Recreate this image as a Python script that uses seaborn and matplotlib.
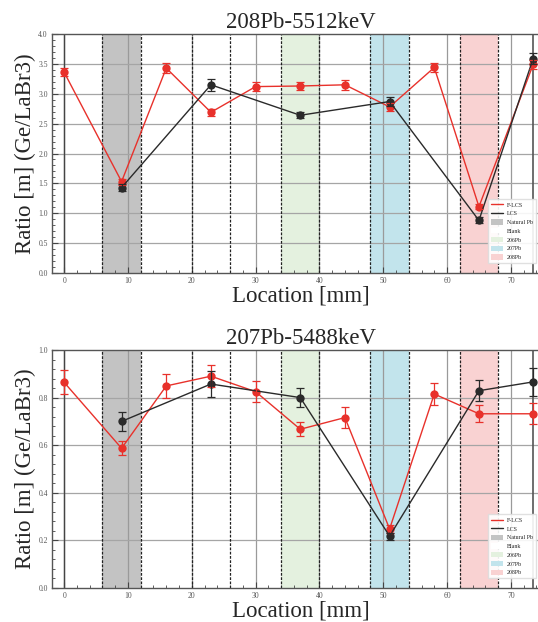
import matplotlib
matplotlib.use("Agg")
import matplotlib.pyplot as plt
from matplotlib.lines import Line2D
from matplotlib.patches import Patch
from matplotlib.ticker import MultipleLocator, AutoMinorLocator, FormatStrFormatter
import numpy as np
import pandas as pd
import seaborn as sns

# Scan positions [mm]
x_flcs = [0, 9, 16, 23, 30, 37, 44, 51, 58, 65, 73.5]
x_lcs = [9, 23, 37, 51, 65, 73.5]

# 208Pb 5512 keV ratios
r208_flcs = [3.36, 1.53, 3.43, 2.69, 3.12, 3.13, 3.15, 2.78, 3.44, 1.11, 3.49]
r208_flcs_err = [0.07, 0.05, 0.08, 0.06, 0.08, 0.07, 0.08, 0.07, 0.07, 0.04, 0.08]
r208_lcs = [1.43, 3.15, 2.64, 2.87, 0.88, 3.59]
r208_lcs_err = [0.06, 0.10, 0.05, 0.07, 0.05, 0.10]

# 207Pb 5488 keV ratios
r207_flcs = [0.864, 0.587, 0.849, 0.890, 0.825, 0.667, 0.716, 0.248, 0.815, 0.732, 0.732]
r207_flcs_err = [0.05, 0.03, 0.05, 0.045, 0.045, 0.03, 0.045, 0.015, 0.045, 0.035, 0.045]
r207_lcs = [0.70, 0.857, 0.80, 0.218, 0.829, 0.866]
r207_lcs_err = [0.04, 0.055, 0.04, 0.015, 0.045, 0.06]

# Sample regions
region_names = ["Natural Pb", "Blank", "206Pb", "207Pb", "208Pb"]
region_spans = [(6, 12), (20, 26), (34, 40), (48, 54), (62, 68)]
region_colors = ["#c3c3c3", "#ffffff", "#e4f1df", "#c2e4ec", "#f9d2d2"]

RED = "#e8312b"
BLACK = "#2a2a2a"

sns.set_theme(style="white")
plt.rcParams["font.family"] = ["Liberation Serif", "DejaVu Serif"]

fig = plt.figure(figsize=(5.38, 6.22), dpi=100)
ax_top = fig.add_axes([0.0967, 0.5611, 0.924, 0.3842])
ax_bot = fig.add_axes([0.0967, 0.0547, 0.924, 0.3826])


def draw_panel(ax, title, flcs, flcs_err, lcs, lcs_err, ymax, ystep):
    ax.set_xlim(-1.9, 76)
    ax.set_ylim(0, ymax)

    for (a, b), c in zip(region_spans, region_colors):
        ax.axvspan(a, b, color=c, lw=0, zorder=0)
        for v in (a, b):
            ax.axvline(v, color="#222222", lw=0.9, ls=(0, (2.2, 1.2)), zorder=1)

    for v in range(0, 80, 10):
        ax.axvline(v, color="#9a9a9a", lw=0.9, zorder=0.5)
    ax.axvline(0, color="#444444", lw=1.0, zorder=0.6)
    ax.axvline(73.5, color="#555555", lw=1.2, zorder=0.6)
    for h in np.arange(ystep, ymax, ystep):
        ax.axhline(h, color="#a5a5a5", lw=0.9, zorder=0.5)

    df = pd.concat([
        pd.DataFrame({"x": x_flcs, "y": flcs, "series": "F-LCS"}),
        pd.DataFrame({"x": x_lcs, "y": lcs, "series": "LCS"}),
    ])
    sns.lineplot(data=df, x="x", y="y", hue="series",
                 palette={"F-LCS": RED, "LCS": BLACK},
                 marker="o", markersize=6, markeredgewidth=0,
                 lw=1.0, legend=False, ax=ax, zorder=3)
    ax.errorbar(x_flcs, flcs, yerr=flcs_err, fmt="none", ecolor=RED,
                elinewidth=0.9, capsize=3, capthick=0.9, zorder=3)
    ax.errorbar(x_lcs, lcs, yerr=lcs_err, fmt="none", ecolor=BLACK,
                elinewidth=0.9, capsize=3, capthick=0.9, zorder=3)

    ax.set_title(title, fontsize=16.5, pad=4)
    ax.set_xlabel("Location [mm]", fontsize=16.5, labelpad=0)
    ax.set_ylabel("Ratio [m] (Ge/LaBr3)", fontsize=16.5, labelpad=2)

    ax.xaxis.set_major_locator(MultipleLocator(10))
    ax.xaxis.set_minor_locator(MultipleLocator(2))
    ax.yaxis.set_major_locator(MultipleLocator(ystep))
    ax.yaxis.set_minor_locator(AutoMinorLocator(5))
    ax.tick_params(axis="both", which="major", direction="in", length=4,
                   width=0.8, labelsize=5.5, labelcolor="#555555",
                   color="#444444", bottom=True, left=True, pad=3)
    ax.tick_params(axis="both", which="minor", direction="in", length=2,
                   width=0.6, color="#444444", bottom=True, left=True)
    ax.yaxis.set_major_formatter(FormatStrFormatter("%.1f"))

    for s in ax.spines.values():
        s.set_color("#555555")
        s.set_linewidth(1.0)

    handles = [
        Line2D([], [], color=RED, lw=1.0),
        Line2D([], [], color=BLACK, lw=1.0),
    ] + [Patch(facecolor=c, edgecolor="none") for c in region_colors]
    labels = ["F-LCS", "LCS"] + region_names
    leg = ax.legend(handles, labels, loc="upper left",
                    bbox_to_anchor=(0.872, 0.322), fontsize=4.3,
                    handlelength=2.0, handleheight=1.0, labelspacing=0.5,
                    handletextpad=0.6, borderpad=0.5, frameon=True,
                    fancybox=False, framealpha=0.9, edgecolor="#dddddd")
    leg.set_zorder(5)


draw_panel(ax_top, "208Pb-5512keV", r208_flcs, r208_flcs_err,
           r208_lcs, r208_lcs_err, 4.0, 0.5)
draw_panel(ax_bot, "207Pb-5488keV", r207_flcs, r207_flcs_err,
           r207_lcs, r207_lcs_err, 1.0, 0.2)

fig.savefig("out.png", dpi=100)
